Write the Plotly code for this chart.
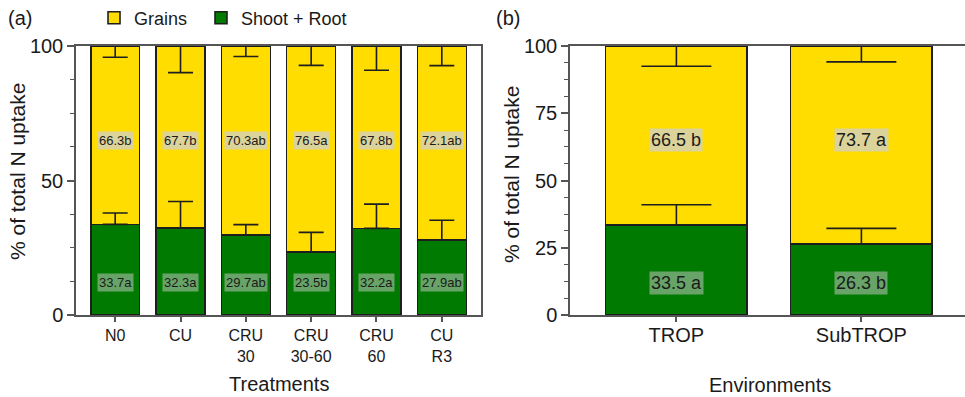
import plotly.graph_objects as go

# ---- data -------------------------------------------------------------
treatments = ["N0", "CU", "CRU<br>30", "CRU<br>30-60", "CRU<br>60", "CU<br>R3"]
trt_shoot = [33.7, 32.3, 29.7, 23.5, 32.2, 27.9]
trt_grain = [66.3, 67.7, 70.3, 76.5, 67.8, 72.1]
trt_shoot_letters = ["a", "a", "ab", "b", "a", "ab"]
trt_grain_letters = ["b", "b", "ab", "a", "b", "ab"]
trt_err = [4.2, 9.9, 3.9, 7.2, 9.0, 7.3]

environments = ["TROP", "SubTROP"]
env_shoot = [33.5, 26.3]
env_grain = [66.5, 73.7]
env_shoot_letters = ["a", "b"]
env_grain_letters = ["b", "a"]
env_err = [7.5, 5.9]

# ---- style ------------------------------------------------------------
FONT = "Liberation Sans, Arial, sans-serif"
YELLOW = "#FFDD00"
GREEN = "#007A00"
OUTLINE = "#1e1e1e"
AXIS = "#555555"
TXT = "#1a1a1a"
GRAIN_TAG_BG = "#DCD39A"
SHOOT_TAG_BG = "#68A468"
GRAIN_TAG_Y = 65
SHOOT_TAG_Y = 12

W, H = 965, 397


def px(xpix):
    return xpix / W


def py(ypix):
    return 1 - ypix / H


fig = go.Figure()


def add_panel(cats, shoot, grain, err, xa, ya, bar_w, cap, legend):
    fig.add_trace(go.Bar(
        x=cats, y=shoot, name="Shoot + Root", marker_color=GREEN,
        marker_line=dict(color=OUTLINE, width=1.6), width=bar_w,
        xaxis=xa, yaxis=ya, showlegend=legend, legend="legend2"))
    fig.add_trace(go.Bar(
        x=cats, y=grain, name="Grains", marker_color=YELLOW,
        marker_line=dict(color=OUTLINE, width=1.6), width=bar_w,
        xaxis=xa, yaxis=ya, showlegend=legend, legend="legend"))
    # error bars drawn above both stacked segments
    totals = [s + g for s, g in zip(shoot, grain)]
    fig.add_trace(go.Scatter(
        x=cats, y=shoot, mode="markers", marker=dict(size=1, opacity=0),
        error_y=dict(type="data", symmetric=False, array=err,
                     arrayminus=[0] * len(err), color=OUTLINE,
                     thickness=1.6, width=cap),
        xaxis=xa, yaxis=ya, showlegend=False, hoverinfo="skip"))
    fig.add_trace(go.Scatter(
        x=cats, y=totals, mode="markers", marker=dict(size=1, opacity=0),
        error_y=dict(type="data", symmetric=False, array=[0] * len(err),
                     arrayminus=err, color=OUTLINE,
                     thickness=1.6, width=cap),
        xaxis=xa, yaxis=ya, showlegend=False, hoverinfo="skip"))


add_panel(treatments, trt_shoot, trt_grain, trt_err, "x", "y", 0.75, 12.5, True)
add_panel(environments, env_shoot, env_grain, env_err, "x2", "y2", 0.765, 35, False)

annotations = []


def add_tags(cats, shoot, grain, s_let, g_let, xa, ya, size, sep, pad):
    for c, s, g, sl, gl in zip(cats, shoot, grain, s_let, g_let):
        annotations.append(dict(
            x=c, y=GRAIN_TAG_Y, xref=xa, yref=ya, text=f"{g}{sep}{gl}",
            showarrow=False, bgcolor=GRAIN_TAG_BG, borderpad=pad,
            font=dict(family=FONT, size=size, color=TXT)))
        annotations.append(dict(
            x=c, y=SHOOT_TAG_Y, xref=xa, yref=ya, text=f"{s}{sep}{sl}",
            showarrow=False, bgcolor=SHOOT_TAG_BG, borderpad=pad,
            font=dict(family=FONT, size=size, color=TXT)))


add_tags(treatments, trt_shoot, trt_grain, trt_shoot_letters, trt_grain_letters,
         "x", "y", 13, "", 1)
add_tags(environments, env_shoot, env_grain, env_shoot_letters, env_grain_letters,
         "x2", "y2", 18, " ", 1)

for txt, x, y in [("(a)", 20, 18), ("(b)", 508, 18)]:
    annotations.append(dict(text=txt, x=px(x), y=py(y), xref="paper", yref="paper",
                            showarrow=False, xanchor="center", yanchor="middle",
                            font=dict(family=FONT, size=20, color=TXT)))

for txt, x, y in [("% of total N uptake", 17, 172), ("% of total N uptake", 511, 175)]:
    annotations.append(dict(text=txt, x=px(x), y=py(y), xref="paper", yref="paper",
                            showarrow=False, textangle=-90, xanchor="center",
                            yanchor="middle",
                            font=dict(family=FONT, size=21, color=TXT)))

for txt, x, y in [("Treatments", 279, 384), ("Environments", 770, 385)]:
    annotations.append(dict(text=txt, x=px(x), y=py(y), xref="paper", yref="paper",
                            showarrow=False, xanchor="center", yanchor="middle",
                            font=dict(family=FONT, size=20, color=TXT)))

axis_common = dict(showline=True, linecolor=AXIS, linewidth=1.5, ticks="outside",
                   tickcolor=AXIS, tickwidth=1.5, showgrid=False, zeroline=False,
                   fixedrange=True, automargin=False)

y_dom = [py(315), py(46)]
legend_style = dict(orientation="h", y=py(18), xanchor="left", yanchor="middle",
                    font=dict(family=FONT, size=18, color=TXT),
                    bgcolor="rgba(0,0,0,0)", itemclick=False)

fig.update_layout(
    width=W, height=H,
    margin=dict(l=0, r=0, t=0, b=0, autoexpand=False),
    paper_bgcolor="white", plot_bgcolor="white",
    barmode="stack",
    font=dict(family=FONT, color=TXT),
    showlegend=True,
    legend=dict(x=px(94), **legend_style),
    legend2=dict(x=px(201), **legend_style),
    annotations=annotations,
    xaxis=dict(domain=[px(76), px(481)], range=[-0.6, 5.6], mirror=True,
               ticklen=5, tickfont=dict(size=16, family=FONT, color=TXT),
               anchor="y", **axis_common),
    yaxis=dict(domain=y_dom, range=[0, 100], mirror=True, tickvals=[0, 50, 100],
               ticklen=7, tickfont=dict(size=20, family=FONT, color=TXT),
               minor=dict(dtick=12.5, ticks="outside", ticklen=4,
                          tickcolor=AXIS, tickwidth=1.2),
               anchor="x", **axis_common),
    xaxis2=dict(domain=[px(570), 1.0], range=[-0.575, 1.56], mirror=True,
                ticklen=5, ticklabelstandoff=-4,
                tickfont=dict(size=20, family=FONT, color=TXT),
                anchor="y2", **axis_common),
    yaxis2=dict(domain=y_dom, range=[0, 100], tickvals=[0, 25, 50, 75, 100],
                ticklen=7, tickfont=dict(size=20, family=FONT, color=TXT),
                minor=dict(dtick=6.25, ticks="outside", ticklen=4,
                           tickcolor=AXIS, tickwidth=1.2),
                anchor="x2", **axis_common),
)

fig.write_html("out.html")
